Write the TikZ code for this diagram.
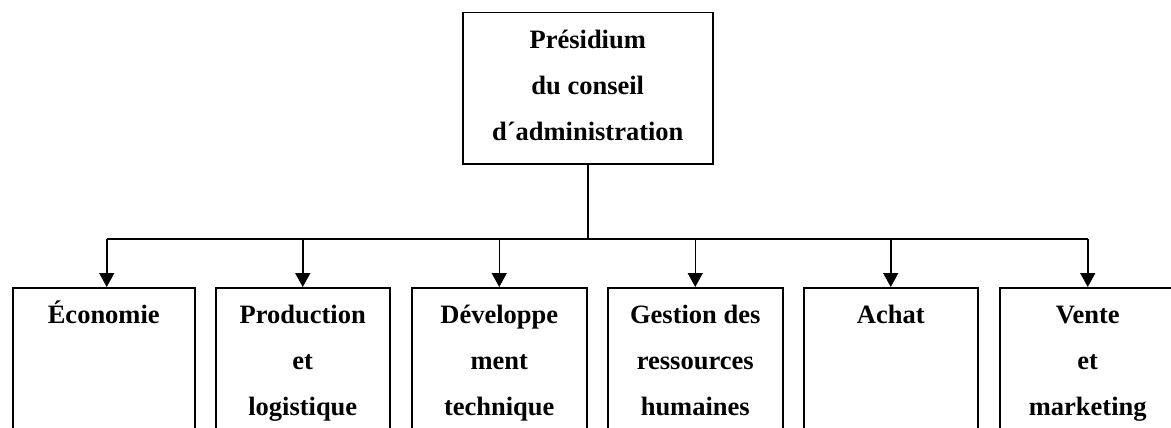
\documentclass[tikz,border=0pt]{standalone}
\usepackage{fontspec}
\setmainfont{Liberation Serif}
\usetikzlibrary{arrows.meta}
\newcommand{\boxtxt}[3]{\parbox[t][#1][t]{#2}{\centering\fontsize{26.5}{46}\selectfont\bfseries\vspace*{3.2pt}#3}}
\tikzset{
  box/.style={draw, line width=1.5pt, inner sep=0pt, anchor=north west},
  conn/.style={line width=1.5pt},
  arr/.style={line width=1.5pt, -{Triangle[length=14pt,width=15pt]}}
}
\begin{document}
\begin{tikzpicture}[x=1pt,y=-1pt]
\useasboundingbox (0,0) rectangle (1171,428);
\node[box] (top) at (462,12) {\boxtxt{151pt}{250pt}{\strut Présidium\\ du conseil\\ d´administration}};
\node[box] (eco) at (12,287) {\boxtxt{200pt}{182pt}{\strut Économie}};
\node[box] (prod) at (215,287) {\boxtxt{200pt}{174pt}{\strut Production\\ et\\ logistique}};
\node[box] (dev) at (411,287) {\boxtxt{200pt}{175pt}{\strut Développe\\ ment\\ technique}};
\node[box] (ges) at (607,287) {\boxtxt{200pt}{175pt}{\strut Gestion des\\ ressources\\ humaines}};
\node[box] (ach) at (803,287) {\boxtxt{200pt}{174pt}{\strut Achat}};
\node[box] (ven) at (999,287) {\boxtxt{200pt}{176pt}{\strut Vente\\ et\\ marketing}};
\coordinate (bar) at (586,239);
\draw[conn] (top.south) -- (top.south |- bar);
\draw[conn] ([xshift=3pt]eco.north |- bar) -- (ven.north |- bar);
\draw[arr] ([xshift=3pt]eco.north |- bar) -- ([xshift=3pt]eco.north);
\foreach \n in {prod,dev,ges,ach,ven}{
  \draw[arr] (\n.north |- bar) -- (\n.north);
}
\end{tikzpicture}
\end{document}
